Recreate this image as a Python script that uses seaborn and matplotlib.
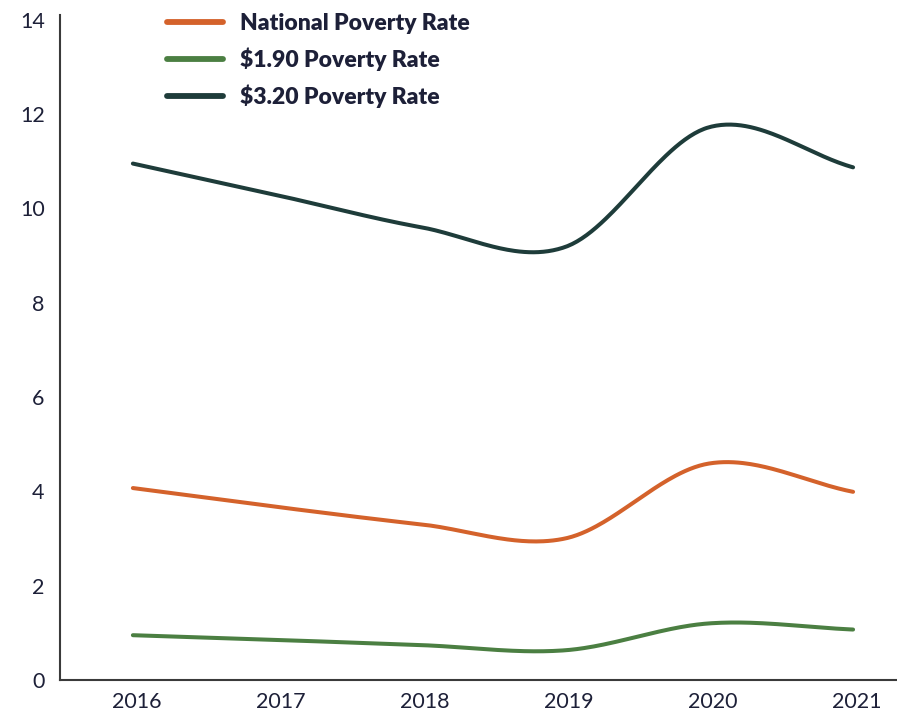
import numpy as np
import pandas as pd
import matplotlib
matplotlib.use("Agg")
import matplotlib.pyplot as plt
import matplotlib.transforms as mtransforms
from matplotlib.lines import Line2D
import seaborn as sns

# Poverty rates (%) by year
years = [2016, 2017, 2018, 2019, 2020, 2021]
national_rate = [4.07, 3.67, 3.30, 3.00, 4.59, 3.99]
rate_190 = [0.95, 0.85, 0.74, 0.63, 1.20, 1.07]
rate_320 = [10.95, 10.28, 9.60, 9.18, 11.72, 10.87]

series_names = ["National Poverty Rate", "$1.90 Poverty Rate", "$3.20 Poverty Rate"]
series_values = [national_rate, rate_190, rate_320]
series_colors = ["#D4622B", "#4B7F42", "#1E3C3A"]
y_ticks = [0, 2, 4, 6, 8, 10, 12, 14]


def smooth(x, y, steps=60):
    """Catmull-Rom style cubic Hermite curve through the yearly values."""
    x = np.asarray(x, float)
    y = np.asarray(y, float)
    n = len(x)
    m = np.empty(n)
    m[1:-1] = (y[2:] - y[:-2]) / (x[2:] - x[:-2])
    m[0] = (y[1] - y[0]) / (x[1] - x[0])
    m[-1] = (y[-1] - y[-2]) / (x[-1] - x[-2])
    xs, ys = [], []
    for i in range(n - 1):
        h = x[i + 1] - x[i]
        t = np.linspace(0, 1, steps, endpoint=(i == n - 2))
        h00 = 2 * t**3 - 3 * t**2 + 1
        h10 = t**3 - 2 * t**2 + t
        h01 = -2 * t**3 + 3 * t**2
        h11 = t**3 - t**2
        xs.append(x[i] + t * h)
        ys.append(h00 * y[i] + h10 * h * m[i] + h01 * y[i + 1] + h11 * h * m[i + 1])
    return np.concatenate(xs), np.concatenate(ys)


frames = []
for name, vals in zip(series_names, series_values):
    sx, sy = smooth(years, vals)
    frames.append(pd.DataFrame({"year": sx, "rate": sy, "series": name}))
df = pd.concat(frames, ignore_index=True)

sns.set_theme(style="white")
plt.rcParams["font.family"] = ["Lato", "DejaVu Sans"]

fig = plt.figure(figsize=(8.97, 7.11), dpi=100)
ax = fig.add_axes([60 / 897, 1 - 680 / 711, 1 - 60 / 897, (680 - 15) / 711])

sns.lineplot(data=df, x="year", y="rate", hue="series", hue_order=series_names,
             palette=series_colors, sort=False, estimator=None, linewidth=2.9,
             legend=False, ax=ax)
for ln in ax.lines:
    ln.set_solid_capstyle("round")

ax.set_xlim(2015.494, 2021.305)
ax.set_ylim(0, 14.1)
ax.set_xticks(years)
ax.set_xticklabels([str(y) for y in years])
ax.set_yticks(y_ticks)
ax.set_xlabel("")
ax.set_ylabel("")

for side in ["top", "right"]:
    ax.spines[side].set_visible(False)
for side in ["left", "bottom"]:
    ax.spines[side].set_color("#3a3a3a")
    ax.spines[side].set_linewidth(1.5)

ax.tick_params(axis="both", length=0, labelsize=15.5, labelcolor="#1d2038")
ax.tick_params(axis="y", pad=11)
ax.tick_params(axis="x", pad=9)
shift = mtransforms.ScaledTranslation(4 / 100, 0, fig.dpi_scale_trans)
for lbl in ax.get_xticklabels():
    lbl.set_transform(lbl.get_transform() + shift)

handles = [Line2D([0], [0], color=c, linewidth=4.2, solid_capstyle="round")
           for c in series_colors]
leg = ax.legend(handles, series_names, loc="upper left",
                bbox_to_anchor=(167 / 897, 1 - 13 / 711), bbox_transform=fig.transFigure,
                frameon=False, handlelength=2.45, handletextpad=0.75,
                labelspacing=0.58, borderaxespad=0, borderpad=0,
                prop={"family": ["Lato", "DejaVu Sans"], "weight": "heavy", "size": 16.5})
for t in leg.get_texts():
    t.set_color("#1d2038")

fig.savefig("out.png", dpi=100, facecolor="white")
